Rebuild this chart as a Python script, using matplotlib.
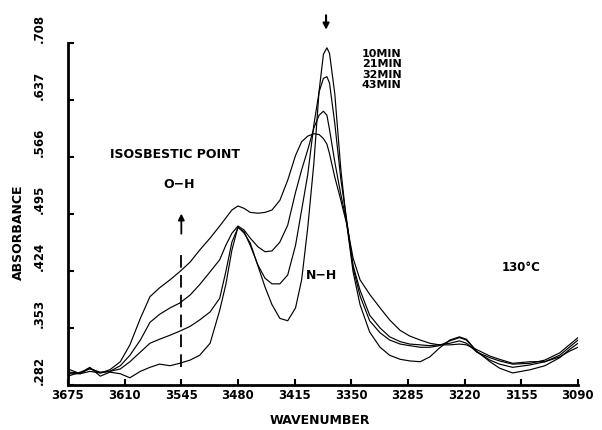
import matplotlib
matplotlib.use("Agg")
import matplotlib.pyplot as plt

plt.rcParams['font.family'] = ['DejaVu Sans']
plt.rcParams['font.weight'] = 'bold'

# wavenumber grid (cm-1)
wavenumber = [3675, 3661, 3650, 3638, 3627, 3615, 3604, 3592, 3581, 3570,
              3558, 3547, 3535, 3524, 3512, 3501, 3494, 3487, 3480, 3473,
              3466, 3457, 3449, 3441, 3432, 3423, 3414, 3407, 3400, 3393,
              3387, 3382, 3378, 3375, 3369, 3362, 3355, 3348, 3340, 3329,
              3317, 3306, 3294, 3283, 3271, 3260, 3249, 3237, 3226, 3218,
              3206, 3191, 3180, 3165, 3145, 3128, 3111, 3100, 3090]

abs_10 = [.298, .297, .304, .293, .298, .296, .291, .299, .304, .308,
          .306, .309, .313, .319, .334, .375, .407, .450, .479, .471,
          .459, .430, .404, .382, .365, .362, .378, .413, .478, .558,
          .648, .694, .702, .695, .645, .550, .480, .423, .382, .348,
          .329, .319, .314, .312, .311, .317, .328, .338, .342, .339,
          .324, .311, .303, .297, .301, .306, .316, .326, .334]

abs_21 = [.293, .298, .302, .298, .299, .302, .311, .323, .334, .339,
          .344, .349, .355, .363, .373, .390, .423, .460, .478, .473,
          .456, .431, .415, .408, .408, .419, .456, .500, .544, .606,
          .647, .664, .666, .658, .608, .538, .485, .428, .393, .362,
          .347, .338, .333, .331, .329, .329, .331, .337, .341, .338,
          .323, .313, .308, .304, .307, .311, .319, .329, .338]

abs_32 = [.296, .296, .303, .297, .299, .306, .319, .338, .360, .370,
          .378, .384, .394, .407, .423, .438, .456, .471, .480, .475,
          .465, .454, .448, .449, .460, .481, .522, .550, .575, .602,
          .618, .623, .618, .600, .560, .519, .483, .431, .400, .369,
          .353, .342, .336, .333, .332, .331, .332, .334, .337, .334,
          .323, .316, .312, .308, .309, .313, .322, .332, .341]

abs_43 = [.302, .296, .299, .297, .301, .311, .332, .365, .392, .403,
          .413, .423, .435, .450, .465, .480, .490, .500, .505, .502,
          .497, .496, .497, .500, .512, .537, .568, .585, .592, .595,
          .594, .589, .582, .570, .541, .512, .481, .440, .413, .395,
          .378, .363, .350, .343, .338, .334, .332, .332, .333, .332,
          .326, .318, .314, .309, .311, .311, .317, .324, .329]

times = ["10MIN", "21MIN", "32MIN", "43MIN"]
xticks = [3675, 3610, 3545, 3480, 3415, 3350, 3285, 3220, 3155, 3090]
yticks = [.282, .353, .424, .495, .566, .637, .708]
ylabels = [".282", ".353", ".424", ".495", ".566", ".637", ".708"]

fig = plt.figure(figsize=(6.02, 4.30), dpi=100)
ax = fig.add_axes([68/602, 45/430, 510/602, 342/430])

for series in [abs_10, abs_21, abs_32, abs_43]:
    ax.plot(wavenumber, series, color='black', lw=0.85)

ax.set_xlim(3675, 3090)
ax.set_ylim(.282, .708)
ax.spines['top'].set_visible(False)
ax.spines['right'].set_visible(False)
ax.spines['left'].set_linewidth(2)
ax.spines['bottom'].set_linewidth(2)

ax.set_xticks(xticks)
ax.set_xticklabels([str(v) for v in xticks], fontsize=8.5, fontweight='bold')
ax.set_yticks(yticks)
ax.set_yticklabels(ylabels, rotation=90, va='bottom', fontsize=8.5,
                   fontweight='bold')
ax.tick_params(axis='both', direction='in', length=4, width=1.5)
ax.tick_params(axis='x', pad=3)
ax.tick_params(axis='y', pad=16)

# isosbestic marker at 3545
ax.plot([3545, 3545], [.304, .450], color='black', lw=1.3,
        dashes=(7, 4))
ax.annotate('', xy=(3545, .499), xytext=(3545, .467),
            arrowprops=dict(arrowstyle='-|>', color='black', lw=1.3,
                            mutation_scale=9))
ax.text(3552, .5685, 'ISOSBESTIC POINT', ha='center', va='center',
        fontsize=9, fontweight='bold')
ax.text(3547, .532, 'O\u2212H', ha='center', va='center', fontsize=9,
        fontweight='bold')
ax.text(3384, .419, 'N\u2212H', ha='center', va='center', fontsize=9,
        fontweight='bold')
ax.text(3155, .428, '130\u00b0C', ha='center', va='center', fontsize=8.5,
        fontweight='bold')

# arrow over the N-H peak
ax.annotate('', xy=(3379, .721), xytext=(3379, .746),
            arrowprops=dict(arrowstyle='-|>', color='black', lw=1.5,
                            mutation_scale=9),
            annotation_clip=False)

for i, label in enumerate(times):
    ax.text(3315, .6943 - i * .0129, label, ha='center', va='center',
            fontsize=8, fontweight='bold')

fig.text(320/602, 1 - 421/430, 'WAVENUMBER', ha='center', va='center',
         fontsize=9, fontweight='bold')
fig.text(18/602, 1 - 232/430, 'ABSORBANCE', ha='center', va='center',
         rotation=90, fontsize=9, fontweight='bold')

fig.savefig('out.png', dpi=100)
